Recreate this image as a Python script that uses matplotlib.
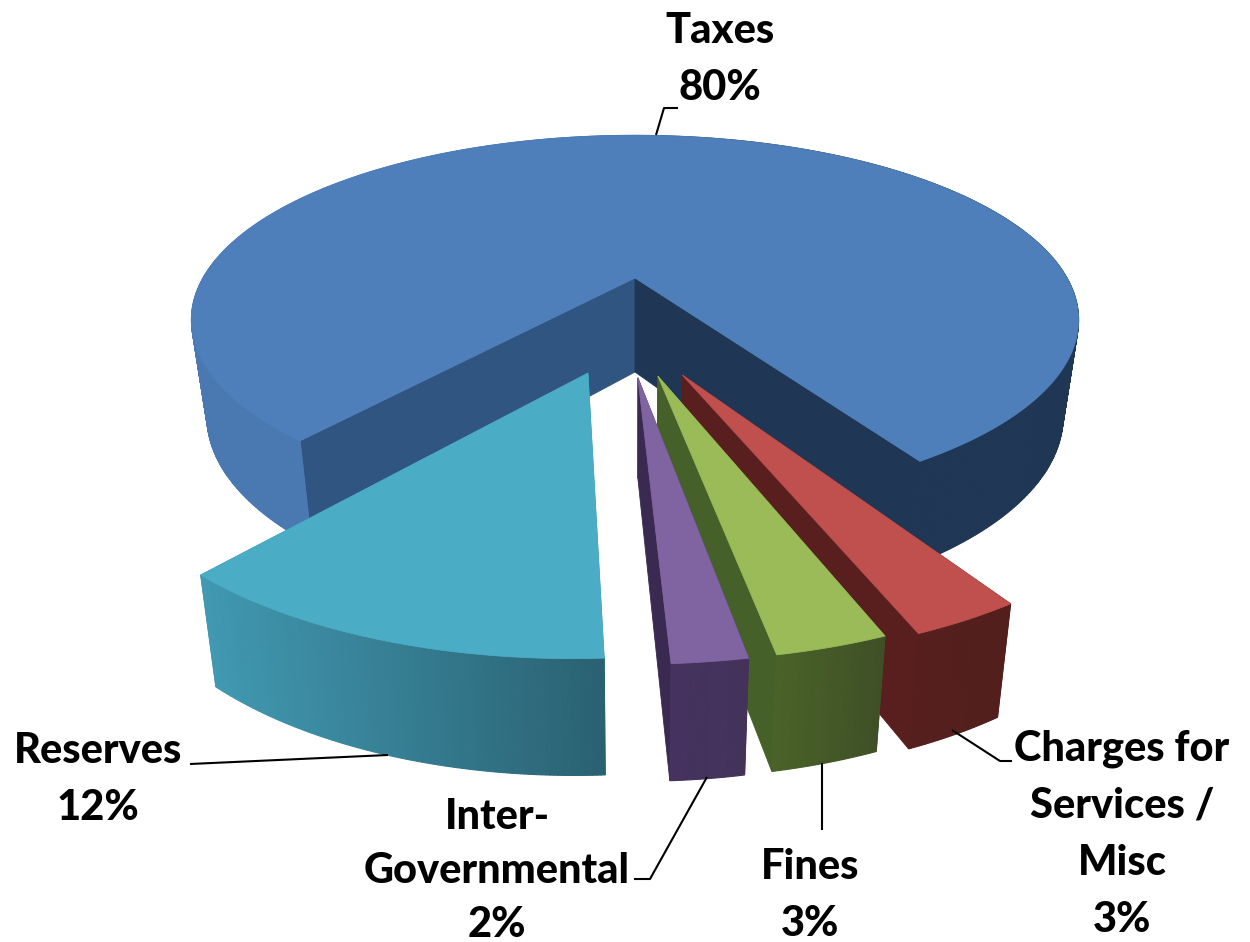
import numpy as np
from matplotlib import pyplot as plt

# revenue shares, clockwise from the back left of the disc
names = ['Taxes', 'Charges for\nServices /\nMisc', 'Fines', 'Inter-\nGovernmental', 'Reserves']
values = [80, 3, 3, 2, 12]

top_colors = ['#4e7fbb', '#c0504d', '#9bbb59', '#8064a2', '#4bacc6']
wall_left = ['#4a79b2', '#561f1e', '#4a6329', '#45325f', '#4199b2']
wall_right = ['#1f3655', '#521f1d', '#3f5026', '#43335a', '#2a6172']
face_left = ['#1f3655', '#581f1e', '#46602a', '#3a2a52', '#3a8ca3']
face_right = ['#2f5580', '#521f1d', '#3f5026', '#43335a', '#3a8ca3']

# how far each slice is pulled out, in disc radii (right, back)
offsets = [(0, 0), (0.097, -0.492), (0.047, -0.497), (0.006, -0.505), (-0.097, -0.484)]
radii = [1.0, 0.965, 0.965, 0.965, 0.972]
twist = [0, 0, 0.25, 0.45, 0.5]
start_angle = -140.2

label_xy = [(720, 31), (1122, 749), (810, 867), (497, 817), (98, 751)]
line_steps = [57, 57, 57, 54, 57]
leaders = [
    ([656, 664, 678], [135, 108, 108]),
    ([952, 1000, 1012], [730, 761, 761]),
    ([822, 822], [763, 830]),
    ([707, 650, 634], [777, 879, 879]),
    ([190, 388], [764, 755]),
]

# perspective of the disc plane
cx, cy, scale_x, scale_y, persp = 635, 278, 432, 175, 0.227


def project(u, v, low=False):
    den = 1 + persp * v
    x = cx + scale_x * u / den
    y = cy - scale_y * v / den
    if low:
        x = cx + 0.965 * (x - cx)
        y = 372 + 1.06 * (y - cy)
    return x, y


def mix(a, b, t):
    a = np.array(plt.matplotlib.colors.to_rgb(a))
    b = np.array(plt.matplotlib.colors.to_rgb(b))
    return tuple(a + (b - a) * t)


def fill(ax, pts, color, lw=0.6):
    ax.fill([p[0] for p in pts], [p[1] for p in pts], color=color, lw=lw)


fig = plt.figure(figsize=(12.5, 9.42), dpi=100)
ax = fig.add_axes([0, 0, 1, 1])
ax.set_xlim(0, 1250)
ax.set_ylim(942, 0)
ax.axis('off')

edges = start_angle + np.concatenate([[0], np.cumsum(values)]) * 3.6

for i in range(len(values)):
    th = np.radians(np.linspace(edges[i], edges[i + 1], int(values[i] * 8) + 12) + twist[i])
    u = offsets[i][0] + radii[i] * np.sin(th)
    v = offsets[i][1] + radii[i] * np.cos(th)
    tip = offsets[i]

    # the two cut faces
    for j, c in [(0, face_right[i]), (-1, face_left[i])]:
        fill(ax, [project(*tip), project(u[j], v[j]), project(u[j], v[j], True), project(*tip, True)], c)

    # outer wall, shaded from left to right, strips overlap so no seams show
    xs = project(u, v)[0]
    for k in range(len(th) - 1):
        t = (xs[k] - xs.min()) / (xs.max() - xs.min())
        if i == 0:
            t = np.clip((xs[k] - 500) / 300, 0, 1)
        fill(ax, [project(u[k], v[k]), project(u[k + 1], v[k + 1]),
                  project(u[k + 1], v[k + 1], True), project(u[k], v[k], True)],
             mix(wall_left[i], wall_right[i], t), lw=0.8)

    # top surface
    fill(ax, [project(*tip)] + list(zip(*project(u, v))), top_colors[i])

for lx, ly in leaders:
    ax.plot(lx, ly, color='black', lw=1.5, solid_capstyle='butt')

for name, val, (x, y), step in zip(names, values, label_xy, line_steps):
    lines = name.split('\n') + [f'{val}%']
    for n, line in enumerate(lines):
        ax.text(x, y + n * step, line, ha='center', va='center', family='Lato',
                fontweight='black', fontsize=30, color='black')

plt.savefig('out.png', dpi=100)
